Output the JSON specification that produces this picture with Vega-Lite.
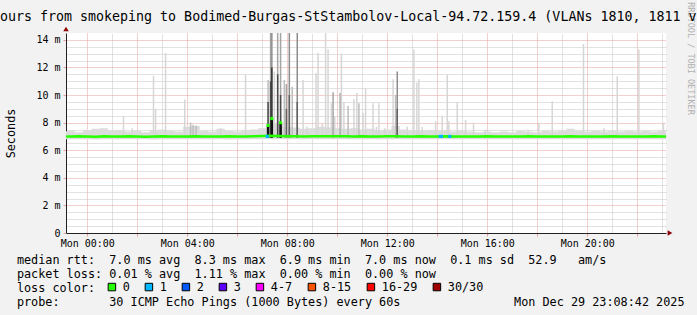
{
  "$schema": "https://vega.github.io/schema/vega-lite/v6.json",
  "width": 600,
  "height": 200,
  "autosize": {"type": "none"},
  "padding": {"left": 66, "top": 33, "right": 31, "bottom": 82},
  "background": "#f2f2f2",
  "config": {"view": {"stroke": null, "fill": "#ffffff"}, "font": "DejaVu Sans Mono"},
  "title": {"text": "ours from smokeping to Bodimed-Burgas-StStambolov-Local-94.72.159.4 (VLANs 1810, 1811 v", "anchor": "start", "frame": "group", "dx": -66, "baseline": "alphabetic", "offset": -32.5, "font": "DejaVu Sans Mono", "fontSize": 13.3, "fontWeight": "normal", "color": "#000000"},
  "datasets": {
    "med": [
      {"t": "2025-12-28T23:00:00", "med": 7.00, "lo": 6.80, "hi": 7.35},
      {"t": "2025-12-28T23:20:00", "med": 6.99, "lo": 6.80, "hi": 7.40},
      {"t": "2025-12-28T23:40:00", "med": 7.01, "lo": 6.79, "hi": 7.30},
      {"t": "2025-12-29T00:00:00", "med": 7.00, "lo": 6.80, "hi": 7.45},
      {"t": "2025-12-29T00:20:00", "med": 6.98, "lo": 6.78, "hi": 7.55},
      {"t": "2025-12-29T00:40:00", "med": 7.02, "lo": 6.80, "hi": 7.60},
      {"t": "2025-12-29T01:00:00", "med": 7.00, "lo": 6.79, "hi": 7.40},
      {"t": "2025-12-29T01:20:00", "med": 6.99, "lo": 6.80, "hi": 7.45},
      {"t": "2025-12-29T01:40:00", "med": 7.01, "lo": 6.80, "hi": 7.35},
      {"t": "2025-12-29T02:00:00", "med": 7.00, "lo": 6.79, "hi": 7.40},
      {"t": "2025-12-29T02:20:00", "med": 6.98, "lo": 6.80, "hi": 7.30},
      {"t": "2025-12-29T02:40:00", "med": 7.00, "lo": 6.78, "hi": 7.45},
      {"t": "2025-12-29T03:00:00", "med": 7.01, "lo": 6.80, "hi": 7.50},
      {"t": "2025-12-29T03:20:00", "med": 7.00, "lo": 6.80, "hi": 7.40},
      {"t": "2025-12-29T03:40:00", "med": 6.99, "lo": 6.79, "hi": 7.35},
      {"t": "2025-12-29T04:00:00", "med": 7.00, "lo": 6.80, "hi": 7.70},
      {"t": "2025-12-29T04:20:00", "med": 7.01, "lo": 6.80, "hi": 7.75},
      {"t": "2025-12-29T04:40:00", "med": 7.00, "lo": 6.79, "hi": 7.40},
      {"t": "2025-12-29T05:00:00", "med": 6.99, "lo": 6.80, "hi": 7.35},
      {"t": "2025-12-29T05:20:00", "med": 7.00, "lo": 6.80, "hi": 7.55},
      {"t": "2025-12-29T05:40:00", "med": 7.01, "lo": 6.78, "hi": 7.40},
      {"t": "2025-12-29T06:00:00", "med": 7.00, "lo": 6.80, "hi": 7.35},
      {"t": "2025-12-29T06:20:00", "med": 7.00, "lo": 6.80, "hi": 7.45},
      {"t": "2025-12-29T06:40:00", "med": 7.02, "lo": 6.79, "hi": 7.50},
      {"t": "2025-12-29T07:00:00", "med": 7.03, "lo": 6.80, "hi": 7.60},
      {"t": "2025-12-29T07:20:00", "med": 7.05, "lo": 6.80, "hi": 8.00},
      {"t": "2025-12-29T07:40:00", "med": 7.04, "lo": 6.80, "hi": 7.90},
      {"t": "2025-12-29T08:00:00", "med": 7.02, "lo": 6.80, "hi": 7.70},
      {"t": "2025-12-29T08:20:00", "med": 7.01, "lo": 6.79, "hi": 7.65},
      {"t": "2025-12-29T08:40:00", "med": 7.00, "lo": 6.80, "hi": 7.55},
      {"t": "2025-12-29T09:00:00", "med": 7.01, "lo": 6.80, "hi": 7.60},
      {"t": "2025-12-29T09:20:00", "med": 7.02, "lo": 6.80, "hi": 7.70},
      {"t": "2025-12-29T09:40:00", "med": 7.01, "lo": 6.79, "hi": 7.65},
      {"t": "2025-12-29T10:00:00", "med": 7.02, "lo": 6.80, "hi": 7.60},
      {"t": "2025-12-29T10:20:00", "med": 7.01, "lo": 6.80, "hi": 7.55},
      {"t": "2025-12-29T10:40:00", "med": 7.00, "lo": 6.80, "hi": 7.60},
      {"t": "2025-12-29T11:00:00", "med": 7.01, "lo": 6.79, "hi": 7.50},
      {"t": "2025-12-29T11:20:00", "med": 7.00, "lo": 6.80, "hi": 7.55},
      {"t": "2025-12-29T11:40:00", "med": 7.00, "lo": 6.80, "hi": 7.45},
      {"t": "2025-12-29T12:00:00", "med": 7.01, "lo": 6.80, "hi": 7.50},
      {"t": "2025-12-29T12:20:00", "med": 7.02, "lo": 6.80, "hi": 7.75},
      {"t": "2025-12-29T12:40:00", "med": 7.00, "lo": 6.79, "hi": 7.50},
      {"t": "2025-12-29T13:00:00", "med": 7.00, "lo": 6.80, "hi": 7.45},
      {"t": "2025-12-29T13:20:00", "med": 7.01, "lo": 6.80, "hi": 7.40},
      {"t": "2025-12-29T13:40:00", "med": 7.00, "lo": 6.80, "hi": 7.45},
      {"t": "2025-12-29T14:00:00", "med": 7.00, "lo": 6.79, "hi": 7.40},
      {"t": "2025-12-29T14:20:00", "med": 7.01, "lo": 6.80, "hi": 7.45},
      {"t": "2025-12-29T14:40:00", "med": 7.00, "lo": 6.80, "hi": 7.35},
      {"t": "2025-12-29T15:00:00", "med": 6.99, "lo": 6.80, "hi": 7.40},
      {"t": "2025-12-29T15:20:00", "med": 7.00, "lo": 6.79, "hi": 7.35},
      {"t": "2025-12-29T15:40:00", "med": 7.00, "lo": 6.80, "hi": 7.30},
      {"t": "2025-12-29T16:00:00", "med": 7.01, "lo": 6.80, "hi": 7.35},
      {"t": "2025-12-29T16:20:00", "med": 7.00, "lo": 6.80, "hi": 7.30},
      {"t": "2025-12-29T16:40:00", "med": 6.99, "lo": 6.79, "hi": 7.35},
      {"t": "2025-12-29T17:00:00", "med": 7.00, "lo": 6.80, "hi": 7.30},
      {"t": "2025-12-29T17:20:00", "med": 7.00, "lo": 6.80, "hi": 7.40},
      {"t": "2025-12-29T17:40:00", "med": 7.01, "lo": 6.80, "hi": 7.35},
      {"t": "2025-12-29T18:00:00", "med": 7.00, "lo": 6.79, "hi": 7.30},
      {"t": "2025-12-29T18:20:00", "med": 7.00, "lo": 6.80, "hi": 7.40},
      {"t": "2025-12-29T18:40:00", "med": 6.99, "lo": 6.80, "hi": 7.35},
      {"t": "2025-12-29T19:00:00", "med": 7.00, "lo": 6.80, "hi": 7.40},
      {"t": "2025-12-29T19:20:00", "med": 7.01, "lo": 6.79, "hi": 7.55},
      {"t": "2025-12-29T19:40:00", "med": 7.00, "lo": 6.80, "hi": 7.40},
      {"t": "2025-12-29T20:00:00", "med": 7.00, "lo": 6.80, "hi": 7.35},
      {"t": "2025-12-29T20:20:00", "med": 6.99, "lo": 6.80, "hi": 7.40},
      {"t": "2025-12-29T20:40:00", "med": 7.00, "lo": 6.79, "hi": 7.35},
      {"t": "2025-12-29T21:00:00", "med": 7.01, "lo": 6.80, "hi": 7.40},
      {"t": "2025-12-29T21:20:00", "med": 7.00, "lo": 6.80, "hi": 7.35},
      {"t": "2025-12-29T21:40:00", "med": 7.00, "lo": 6.80, "hi": 7.40},
      {"t": "2025-12-29T22:00:00", "med": 6.99, "lo": 6.79, "hi": 7.35},
      {"t": "2025-12-29T22:20:00", "med": 7.00, "lo": 6.80, "hi": 7.40},
      {"t": "2025-12-29T22:40:00", "med": 7.01, "lo": 6.80, "hi": 7.35},
      {"t": "2025-12-29T23:00:00", "med": 7.00, "lo": 6.80, "hi": 7.40},
      {"t": "2025-12-29T23:20:00", "med": 7.00, "lo": 6.80, "hi": 7.35}
    ],
    "spikes": [
      {"t": "2025-12-29T01:27:00", "top": 8.46, "n": 1},
      {"t": "2025-12-29T01:48:00", "top": 7.6, "n": 1},
      {"t": "2025-12-29T02:39:00", "top": 11.4, "n": 1},
      {"t": "2025-12-29T02:44:00", "top": 9.0, "n": 1},
      {"t": "2025-12-29T03:08:00", "top": 13.05, "n": 1},
      {"t": "2025-12-29T03:54:00", "top": 9.67, "n": 1},
      {"t": "2025-12-29T04:08:00", "top": 8.0, "n": 2},
      {"t": "2025-12-29T04:14:00", "top": 7.85, "n": 2},
      {"t": "2025-12-29T04:21:00", "top": 7.8, "n": 2},
      {"t": "2025-12-29T05:20:00", "top": 7.6, "n": 1},
      {"t": "2025-12-29T06:20:00", "top": 11.48, "n": 1},
      {"t": "2025-12-29T07:14:00", "top": 11.1, "n": 2},
      {"t": "2025-12-29T07:20:00", "top": 14.5, "n": 3},
      {"t": "2025-12-29T07:23:00", "top": 14.5, "n": 4},
      {"t": "2025-12-29T07:29:00", "top": 11.7, "n": 1},
      {"t": "2025-12-29T07:37:00", "top": 14.5, "n": 3},
      {"t": "2025-12-29T07:44:00", "top": 14.5, "n": 3},
      {"t": "2025-12-29T07:53:00", "top": 11.1, "n": 2},
      {"t": "2025-12-29T07:58:00", "top": 10.8, "n": 3},
      {"t": "2025-12-29T08:05:00", "top": 14.5, "n": 4},
      {"t": "2025-12-29T08:12:00", "top": 10.6, "n": 2},
      {"t": "2025-12-29T08:24:00", "top": 14.5, "n": 4},
      {"t": "2025-12-29T08:38:00", "top": 11.1, "n": 1},
      {"t": "2025-12-29T08:47:00", "top": 7.7, "n": 1},
      {"t": "2025-12-29T09:09:00", "top": 11.6, "n": 1},
      {"t": "2025-12-29T09:14:00", "top": 13.05, "n": 1},
      {"t": "2025-12-29T09:24:00", "top": 7.9, "n": 1},
      {"t": "2025-12-29T09:32:00", "top": 14.5, "n": 1},
      {"t": "2025-12-29T09:38:00", "top": 13.3, "n": 1},
      {"t": "2025-12-29T09:46:00", "top": 9.4, "n": 1},
      {"t": "2025-12-29T09:50:00", "top": 10.2, "n": 3},
      {"t": "2025-12-29T09:54:00", "top": 8.46, "n": 1},
      {"t": "2025-12-29T10:07:00", "top": 10.15, "n": 3},
      {"t": "2025-12-29T10:10:00", "top": 13.0, "n": 1},
      {"t": "2025-12-29T10:16:00", "top": 9.5, "n": 1},
      {"t": "2025-12-29T10:26:00", "top": 9.2, "n": 2},
      {"t": "2025-12-29T10:40:00", "top": 9.7, "n": 1},
      {"t": "2025-12-29T10:47:00", "top": 10.15, "n": 1},
      {"t": "2025-12-29T10:52:00", "top": 9.4, "n": 2},
      {"t": "2025-12-29T11:02:00", "top": 8.7, "n": 1},
      {"t": "2025-12-29T11:08:00", "top": 10.5, "n": 1},
      {"t": "2025-12-29T11:26:00", "top": 9.4, "n": 1},
      {"t": "2025-12-29T11:34:00", "top": 7.7, "n": 1},
      {"t": "2025-12-29T11:40:00", "top": 9.4, "n": 1},
      {"t": "2025-12-29T11:54:00", "top": 7.6, "n": 1},
      {"t": "2025-12-29T12:14:00", "top": 11.15, "n": 1},
      {"t": "2025-12-29T12:20:00", "top": 10.0, "n": 2},
      {"t": "2025-12-29T12:24:00", "top": 11.7, "n": 4},
      {"t": "2025-12-29T12:48:00", "top": 7.7, "n": 1},
      {"t": "2025-12-29T13:04:00", "top": 13.3, "n": 1},
      {"t": "2025-12-29T13:11:00", "top": 10.9, "n": 1},
      {"t": "2025-12-29T13:16:00", "top": 11.15, "n": 1},
      {"t": "2025-12-29T13:24:00", "top": 7.7, "n": 1},
      {"t": "2025-12-29T13:56:00", "top": 8.1, "n": 1},
      {"t": "2025-12-29T14:12:00", "top": 8.5, "n": 1},
      {"t": "2025-12-29T14:24:00", "top": 11.48, "n": 1},
      {"t": "2025-12-29T14:28:00", "top": 8.1, "n": 1},
      {"t": "2025-12-29T14:48:00", "top": 9.5, "n": 1},
      {"t": "2025-12-29T15:08:00", "top": 8.2, "n": 1},
      {"t": "2025-12-29T15:27:00", "top": 8.0, "n": 1},
      {"t": "2025-12-29T15:56:00", "top": 7.5, "n": 1},
      {"t": "2025-12-29T17:38:00", "top": 7.5, "n": 1},
      {"t": "2025-12-29T18:04:00", "top": 8.0, "n": 1},
      {"t": "2025-12-29T18:36:00", "top": 9.55, "n": 1},
      {"t": "2025-12-29T19:51:00", "top": 13.7, "n": 1},
      {"t": "2025-12-29T20:40:00", "top": 7.6, "n": 1},
      {"t": "2025-12-29T21:12:00", "top": 11.36, "n": 1},
      {"t": "2025-12-29T22:04:00", "top": 13.3, "n": 1},
      {"t": "2025-12-29T23:03:00", "top": 8.0, "n": 1},
      {"t": "2025-12-29T07:14:00", "top": 9.5, "n": 7},
      {"t": "2025-12-29T07:20:00", "top": 11.0, "n": 7},
      {"t": "2025-12-29T07:23:00", "top": 12.0, "n": 8},
      {"t": "2025-12-29T07:37:00", "top": 11.5, "n": 7},
      {"t": "2025-12-29T07:44:00", "top": 10.0, "n": 7},
      {"t": "2025-12-29T07:58:00", "top": 9.0, "n": 6},
      {"t": "2025-12-29T08:05:00", "top": 10.0, "n": 6},
      {"t": "2025-12-29T08:24:00", "top": 9.5, "n": 6},
      {"t": "2025-12-29T12:24:00", "top": 9.0, "n": 6}
    ],
    "dark": [
      {"t": "2025-12-29T07:14:00", "med": 7.8},
      {"t": "2025-12-29T07:23:00", "med": 8.3},
      {"t": "2025-12-29T07:44:00", "med": 8.0}
    ],
    "loss": [
      {"t": "2025-12-29T07:12:00", "med": 7.0, "loss": "1"},
      {"t": "2025-12-29T14:07:00", "med": 7.0, "loss": "1"},
      {"t": "2025-12-29T14:10:00", "med": 7.0, "loss": "1"},
      {"t": "2025-12-29T14:30:00", "med": 7.0, "loss": "1"}
    ]
  },
  "resolve": {"axis": {"x": "independent", "y": "independent"}},
  "layer": [
    {
      "data": {"name": "med"},
      "mark": {"type": "area", "color": "#dcdcdc", "interpolate": "step", "clip": true},
      "encoding": {
        "x": {"field": "t", "type": "temporal",
          "scale": {"domain": [{"year": 2025, "month": 12, "date": 28, "hours": 23, "minutes": 9}, {"year": 2025, "month": 12, "date": 29, "hours": 23, "minutes": 9}]},
          "axis": {"orient": "top", "values": [
            {"year": 2025, "month": 12, "date": 29, "hours": 1}, {"year": 2025, "month": 12, "date": 29, "hours": 3},
            {"year": 2025, "month": 12, "date": 29, "hours": 5}, {"year": 2025, "month": 12, "date": 29, "hours": 7},
            {"year": 2025, "month": 12, "date": 29, "hours": 9}, {"year": 2025, "month": 12, "date": 29, "hours": 11},
            {"year": 2025, "month": 12, "date": 29, "hours": 13}, {"year": 2025, "month": 12, "date": 29, "hours": 15},
            {"year": 2025, "month": 12, "date": 29, "hours": 17}, {"year": 2025, "month": 12, "date": 29, "hours": 19},
            {"year": 2025, "month": 12, "date": 29, "hours": 21}, {"year": 2025, "month": 12, "date": 29, "hours": 23}],
            "grid": true, "gridColor": "#c4c4c4", "gridDash": [1, 1], "gridOpacity": 1,
            "labels": false, "ticks": false, "domain": false, "title": null}},
        "y": {"field": "lo", "type": "quantitative",
          "scale": {"domain": [0, 14.5], "nice": false, "zero": true},
          "axis": {"orient": "right", "values": [0.5, 1, 1.5, 2.5, 3, 3.5, 4.5, 5, 5.5, 6.5, 7, 7.5, 8.5, 9, 9.5, 10.5, 11, 11.5, 12.5, 13, 13.5],
            "grid": true, "gridColor": "#c4c4c4", "gridDash": [1, 1], "gridOpacity": 1,
            "labels": false, "ticks": false, "domain": false,
            "title": "RRDTOOL / TOBI OETIKER", "titleX": 24, "titleY": 25, "titleAngle": 90, "titleAlign": "center", "titleBaseline": "middle",
            "titleFont": "DejaVu Sans Mono", "titleFontSize": 8.5, "titleFontWeight": "normal", "titleColor": "#b0b0b0"}},
        "y2": {"field": "hi"}
      }
    },
    {
      "data": {"name": "spikes"},
      "mark": {"type": "rule", "strokeWidth": 1.5, "clip": true},
      "encoding": {
        "x": {"field": "t", "type": "temporal",
          "axis": {"orient": "bottom", "values": [
            {"year": 2025, "month": 12, "date": 29, "hours": 0}, {"year": 2025, "month": 12, "date": 29, "hours": 2},
            {"year": 2025, "month": 12, "date": 29, "hours": 4}, {"year": 2025, "month": 12, "date": 29, "hours": 6},
            {"year": 2025, "month": 12, "date": 29, "hours": 8}, {"year": 2025, "month": 12, "date": 29, "hours": 10},
            {"year": 2025, "month": 12, "date": 29, "hours": 12}, {"year": 2025, "month": 12, "date": 29, "hours": 14},
            {"year": 2025, "month": 12, "date": 29, "hours": 16}, {"year": 2025, "month": 12, "date": 29, "hours": 18},
            {"year": 2025, "month": 12, "date": 29, "hours": 20}, {"year": 2025, "month": 12, "date": 29, "hours": 22}],
            "grid": true, "gridColor": "#e6a0a0", "gridDash": [1, 1], "gridOpacity": 1,
            "domainColor": "#222222", "domainWidth": 1, "tickColor": "#e6a0a0", "tickSize": 3,
            "labelExpr": "hours(datum.value) % 4 == 0 ? timeFormat(datum.value, '%a %H:%M') : ''",
            "labelFont": "DejaVu Sans Mono", "labelFontSize": 10, "labelColor": "#000000", "labelPadding": 2, "labelFlush": false, "labelOverlap": false,
            "title": [
              "median\u00a0rtt:\u00a0\u00a07.0\u00a0ms\u00a0avg\u00a0\u00a08.3\u00a0ms\u00a0max\u00a0\u00a06.9\u00a0ms\u00a0min\u00a0\u00a07.0\u00a0ms\u00a0now\u00a0\u00a00.1\u00a0ms\u00a0sd\u00a0\u00a052.9\u00a0\u00a0\u00a0am/s",
              "packet\u00a0loss:\u00a00.01\u00a0%\u00a0avg\u00a0\u00a01.11\u00a0%\u00a0max\u00a0\u00a00.00\u00a0%\u00a0min\u00a0\u00a00.00\u00a0%\u00a0now",
              "loss\u00a0color:",
              "probe:\u00a0\u00a0\u00a0\u00a0\u00a0\u00a0\u00a030\u00a0ICMP\u00a0Echo\u00a0Pings\u00a0(1000\u00a0Bytes)\u00a0every\u00a060s\u00a0\u00a0\u00a0\u00a0\u00a0\u00a0\u00a0\u00a0\u00a0\u00a0\u00a0\u00a0\u00a0\u00a0\u00a0\u00a0Mon\u00a0Dec\u00a029\u00a023:08:42\u00a02025"
            ],
            "titleX": -49.6, "titleY": 21.5, "titleAlign": "left", "titleAnchor": "start", "titleBaseline": "top", "titleAngle": 0,
            "titleFont": "DejaVu Sans Mono", "titleFontSize": 11.8, "titleFontWeight": "normal", "titleColor": "#000000", "titleLineHeight": 14}},
        "y": {"field": "top", "type": "quantitative",
          "axis": {"orient": "left", "values": [0, 2, 4, 6, 8, 10, 12, 14],
            "grid": true, "gridColor": "#e6a0a0", "gridDash": [1, 1], "gridOpacity": 1,
            "domainColor": "#222222", "domainWidth": 1, "tickColor": "#e6a0a0", "tickSize": 3,
            "labelExpr": "datum.value == 0 ? '0\u00a0\u00a0' : datum.value + '\u00a0m'",
            "labelFont": "DejaVu Sans Mono", "labelFontSize": 10, "labelColor": "#000000", "labelPadding": 3,
            "title": "Seconds", "titleX": -56, "titleY": 100, "titleAngle": -90, "titleAlign": "center", "titleBaseline": "middle",
            "titleFont": "DejaVu Sans Mono", "titleFontSize": 11.8, "titleFontWeight": "normal", "titleColor": "#000000"}},
        "y2": {"datum": 6.9},
        "stroke": {"field": "n", "type": "quantitative", "scale": {"domain": [1, 10], "range": ["#d6d6d6", "#111111"]}, "legend": null}
      }
    },
    {
      "data": {"name": "dark"},
      "mark": {"type": "rule", "strokeWidth": 2.5, "color": "#111111", "clip": true},
      "encoding": {
        "x": {"field": "t", "type": "temporal", "axis": null},
        "y": {"field": "med", "type": "quantitative", "axis": null},
        "y2": {"datum": 6.9}
      }
    },
    {
      "data": {"name": "med"},
      "mark": {"type": "line", "color": "#26ff00", "strokeWidth": 2.5, "clip": true},
      "encoding": {
        "x": {"field": "t", "type": "temporal", "axis": null},
        "y": {"field": "med", "type": "quantitative", "axis": null}
      }
    },
    {
      "data": {"name": "dark"},
      "mark": {"type": "point", "shape": "square", "filled": true, "size": 10, "color": "#26ff00", "opacity": 1, "clip": true},
      "encoding": {
        "x": {"field": "t", "type": "temporal", "axis": null},
        "y": {"field": "med", "type": "quantitative", "axis": null}
      }
    },
    {
      "data": {"name": "loss"},
      "mark": {"type": "point", "shape": "square", "filled": true, "size": 10, "opacity": 1, "clip": true},
      "encoding": {
        "x": {"field": "t", "type": "temporal", "axis": null},
        "y": {"field": "med", "type": "quantitative", "axis": null},
        "fill": {"field": "loss", "type": "nominal",
          "scale": {"domain": ["0", "1", "2", "3", "4-7", "8-15", "16-29", "30/30"],
                    "range": ["#26ff00", "#00b8ff", "#0059ff", "#5e00ff", "#ff00ff", "#ff5500", "#ff0000", "#a10000"]},
          "legend": {"orient": "none", "legendX": 40, "legendY": 248, "direction": "horizontal",
            "title": null,
            "labelFont": "DejaVu Sans Mono", "labelFontSize": 11.8, "labelColor": "#000000", "labelOffset": 5, "columnPadding": 13,
            "symbolType": "square", "symbolSize": 56, "symbolStrokeColor": "#000000", "symbolStrokeWidth": 1, "symbolOpacity": 1, "padding": 0}}
      }
    },
    {
      "data": {"values": [{"t": "2025-12-29T23:09:00", "v": 0}]},
      "mark": {"type": "point", "shape": "triangle-right", "filled": true, "size": 30, "color": "#8b0000", "opacity": 1, "xOffset": 4},
      "encoding": {
        "x": {"field": "t", "type": "temporal", "axis": null},
        "y": {"field": "v", "type": "quantitative", "axis": null}
      }
    },
    {
      "data": {"values": [{"t": "2025-12-28T23:09:00", "v": 14.5}]},
      "mark": {"type": "point", "shape": "triangle-up", "filled": true, "size": 30, "color": "#8b0000", "opacity": 1, "yOffset": -4},
      "encoding": {
        "x": {"field": "t", "type": "temporal", "axis": null},
        "y": {"field": "v", "type": "quantitative", "axis": null}
      }
    }
  ]
}
